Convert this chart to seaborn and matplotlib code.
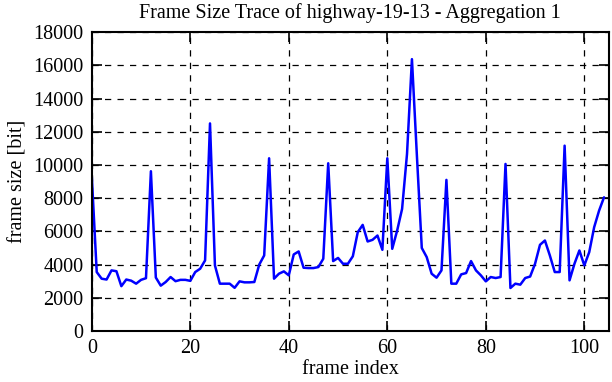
import numpy as np
import pandas as pd
import matplotlib
matplotlib.use("Agg")
import matplotlib.pyplot as plt
import seaborn as sns

frame_size = [
    9300, 3550, 3150, 3100, 3650, 3600, 2700, 3100, 3030, 2850,
    3080, 3180, 9620, 3220, 2730, 2950, 3250, 3000, 3080, 3080,
    3020, 3550, 3750, 4250, 12500, 3950, 2850, 2850, 2850, 2600,
    2990, 2930, 2930, 2950, 4000, 4550, 10400, 3150, 3450, 3590,
    3350, 4610, 4790, 3810, 3790, 3790, 3850, 4350, 10100, 4210,
    4400, 4050, 4050, 4500, 5950, 6390, 5390, 5490, 5750, 4890,
    10400, 4950, 6050, 7350, 10660, 16370, 10600, 5000, 4450, 3450,
    3210, 3650, 9100, 2850, 2850, 3410, 3490, 4210, 3650, 3350,
    2990, 3250, 3190, 3250, 10060, 2590, 2850, 2790, 3190, 3280,
    4050, 5190, 5450, 4550, 3550, 3550, 11160, 3050, 4050, 4850,
    3950, 4750, 6250, 7250, 8050,
]
frame_index = list(range(len(frame_size)))

x_ticks = [0, 20, 40, 60, 80, 100]
y_ticks = list(range(0, 18001, 2000))

title = "Frame Size Trace of highway-19-13 - Aggregation 1"
x_label = "frame index"
y_label = "frame size [bit]"

df = pd.DataFrame({"frame index": frame_index, "frame size": frame_size})

sns.set_style("ticks")
plt.rcParams["font.family"] = ["Liberation Serif", "DejaVu Serif"]
plt.rcParams["text.color"] = "black"
plt.rcParams["axes.labelcolor"] = "black"

fig = plt.figure(figsize=(6.12, 3.82), dpi=100)
ax = fig.add_axes([0.150, 0.1335, 0.845, 0.7825])

sns.lineplot(data=df, x="frame index", y="frame size", ax=ax,
             color="#0000ff", linewidth=1.8)

ax.set_xlim(0, 105)
ax.set_ylim(0, 18000)
ax.set_xticks(x_ticks)
ax.set_yticks(y_ticks)
ax.grid(True, color="black", linestyle=(0, (5, 5)), linewidth=0.9)
ax.set_axisbelow(True)

for s in ax.spines.values():
    s.set_visible(True)
    s.set_linewidth(1.5)
    s.set_color("black")

fs = 14.5
ax.tick_params(direction="in", length=7, width=1.2, top=True, right=True,
               labelsize=fs, colors="black")
ax.tick_params(axis="x", pad=6)
ax.tick_params(axis="y", pad=6)
ax.set_title(title, fontsize=fs, pad=10, color="black")
ax.set_xlabel(x_label, fontsize=fs, labelpad=1, color="black")
ax.set_ylabel(y_label, fontsize=fs, labelpad=4, color="black")

fig.savefig("out.png", dpi=100)
